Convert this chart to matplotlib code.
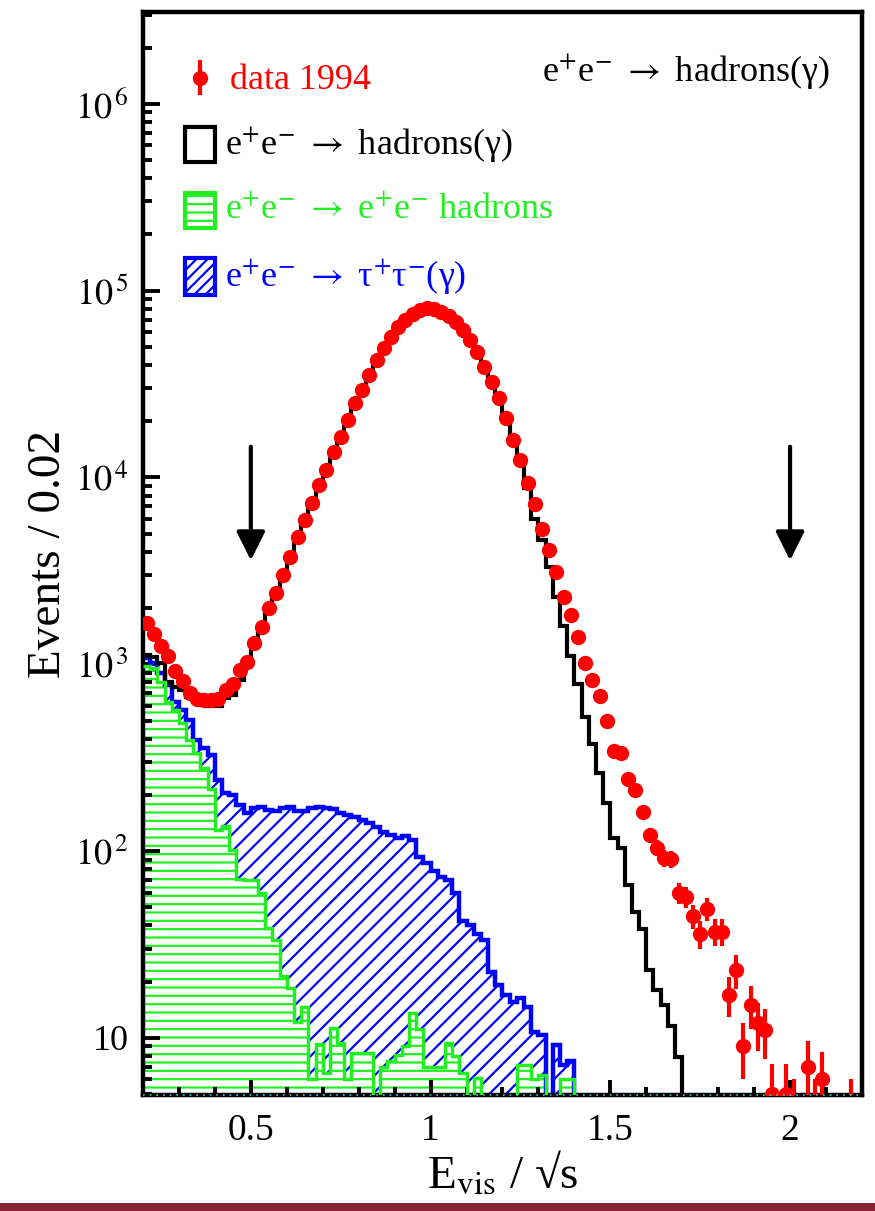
import numpy as np
import matplotlib
matplotlib.use("Agg")
import matplotlib.pyplot as plt
from matplotlib.patches import Rectangle
from matplotlib.ticker import FixedLocator, MultipleLocator, LogLocator, NullFormatter, FuncFormatter

plt.rcParams.update({
    "font.family": ["Liberation Serif", "DejaVu Serif"],
    "mathtext.fontset": "stix",
    "hatch.linewidth": 1.6,
})

# ---- data (E_vis / sqrt(s), bins of 0.02 from 0.2 to 2.2) ----
x_lo, x_hi, n_bins = 0.2, 2.2, 100
edges = np.linspace(x_lo, x_hi, n_bins + 1)
centres = 0.5 * (edges[:-1] + edges[1:])

data_1994 = np.array([
    1670, 1450, 1250, 1110, 920, 810, 705, 650, 645, 640,
    655, 730, 785, 933, 1030, 1300, 1585, 2000, 2410, 3010,
    3760, 4810, 5930, 7310, 9130, 10990, 13710, 16490, 20330, 25100,
    29440, 35400, 42600, 49400, 56600, 64000, 69800, 75000, 78900, 80900,
    80000, 77000, 73300, 68000, 61300, 54600, 47100, 39200, 32600, 26700,
    20900, 15900, 12400, 9350, 7250, 5270, 4100, 3120, 2280, 1825,
    1408, 1022, 819, 678, 499, 342, 337, 242, 213, 162,
    122, 104, 92, 91, 60, 57, 45, 36, 49, 37,
    37, 17, 23, 9, 15, 12, 11, 5, 0, 5,
    4, 0, 7, 4, 6, 0, 0, 0, 4, 0,
])

# total MC (hadrons + backgrounds)
mc_total = np.array([
    1125, 1100, 1014, 807, 760, 729, 671, 631, 606, 599,
    599, 658, 686, 825, 1000, 1270, 1560, 1960, 2380, 2980,
    3720, 4760, 5880, 7250, 9050, 10900, 13600, 16400, 20200, 25000,
    29300, 35200, 42400, 49200, 56400, 63800, 69600, 74800, 78700, 80700,
    79800, 76800, 73000, 67700, 61000, 54300, 46800, 38900, 32300, 26400,
    20600, 15600, 12000, 8800, 6000, 4600, 3300, 2300, 1600, 1110,
    780, 520, 375, 262, 180, 118, 104, 66, 47, 38.5,
    23, 18, 15, 11.6, 7.9, 0, 0, 0, 0, 0,
    0, 0, 0, 0, 0, 0, 0, 0, 0, 0,
    0, 0, 0, 0, 0, 0, 0, 0, 0, 0,
])

# two-photon + tau pairs (stacked)
mc_tautau_stack = np.array([
    1078, 1014, 900, 770, 631, 570, 504, 394, 355, 327,
    240, 204, 200, 177, 160, 170, 173, 166, 163, 170,
    173, 163, 163, 170, 172, 170, 168, 160, 157, 153,
    147, 141, 135, 127, 122, 118, 120, 115, 93, 86,
    78, 73, 70, 60, 42, 40, 36, 33.5, 22.6, 19.2,
    17, 15.5, 16.3, 14.7, 10.8, 10.4, 0, 9.2, 7.2, 7.5,
    0, 0, 0, 0, 0, 0, 0, 0, 0, 0,
    0, 0, 0, 0, 0, 0, 0, 0, 0, 0,
    0, 0, 0, 0, 0, 0, 0, 0, 0, 0,
    0, 0, 0, 0, 0, 0, 0, 0, 0, 0,
])

# two-photon hadrons
mc_twophoton = np.array([
    980, 950, 807, 631, 570, 484, 394, 334, 280, 215,
    130, 136, 101, 71, 70, 70, 60, 38.6, 33.5, 21.5,
    18.6, 12.2, 14.7, 6, 9.3, 6.5, 11.3, 9.4, 6, 8.3,
    8.3, 8.3, 0, 7, 7.5, 8.1, 9, 13.6, 11.1, 7,
    7, 7, 9.4, 8, 6.5, 0, 6.1, 0, 0, 0,
    0, 0, 7.2, 7.2, 6, 6.3, 0, 0, 6, 6,
    0, 0, 0, 0, 0, 0, 0, 0, 0, 0,
    0, 0, 0, 0, 0, 0, 0, 0, 0, 0,
    0, 0, 0, 0, 0, 0, 0, 0, 0, 0,
    0, 0, 0, 0, 0, 0, 0, 0, 0, 0,
])

cut_positions = [0.5, 2.0]
arrow_top, arrow_tip = 14600, 3600

x_ticks = [0.5, 1.0, 1.5, 2.0]
x_tick_labels = ["0.5", "1", "1.5", "2"]
y_ticks = [10, 1e2, 1e3, 1e4, 1e5, 1e6]

RED, GREEN, BLUE = "#ff0000", "#22ee22", "#0000ff"
LBL_HAD = r"e$^{+}$e$^{-}$ $\rightarrow$ hadrons(γ)"
LBL_GG = r"e$^{+}$e$^{-}$ $\rightarrow$ e$^{+}$e$^{-}$ hadrons"
LBL_TAU = r"e$^{+}$e$^{-}$ $\rightarrow$ τ$^{+}$τ$^{-}$(γ)"

fig = plt.figure(figsize=(8.75, 12.11), dpi=100)
ax = fig.add_axes([0.1634, 0.0958, 0.8217, 0.8943])
ax.set_yscale("log")
ax.set_xlim(x_lo, x_hi)
ax.set_ylim(4.95, 3.1e6)

# filled (hatched) backgrounds
ax.stairs(mc_twophoton, edges, baseline=1.0, fill=True, facecolor="none",
          edgecolor=GREEN, hatch="--", linewidth=0, zorder=1)
ax.stairs(mc_tautau_stack, edges, baseline=mc_twophoton, fill=True, facecolor="none",
          edgecolor=BLUE, hatch="//", linewidth=0, zorder=1)

# outlines
ax.stairs(mc_tautau_stack, edges, baseline=None, color=BLUE, linewidth=3.2, zorder=2)
ax.stairs(mc_twophoton, edges, baseline=None, color=GREEN, linewidth=2.5, zorder=3)
ax.stairs(mc_total, edges, baseline=None, color="black", linewidth=3, zorder=2)

# data points
m = data_1994 > 0
ax.errorbar(centres[m], data_1994[m], yerr=np.sqrt(data_1994[m]), fmt="o",
            color=RED, ms=10, elinewidth=3, capsize=0, zorder=5)

# cut arrows
for xc in cut_positions:
    ax.annotate("", xy=(xc, arrow_tip), xytext=(xc, arrow_top),
                arrowprops=dict(arrowstyle="-|>,head_length=0.7,head_width=0.35",
                                color="black", lw=3, shrinkA=0, shrinkB=0,
                                mutation_scale=25), zorder=6)

# axes cosmetics
for s in ax.spines.values():
    s.set_linewidth(3.2)
ax.xaxis.set_major_locator(FixedLocator(x_ticks))
ax.set_xticklabels(x_tick_labels)
ax.xaxis.set_minor_locator(MultipleLocator(0.1))
ax.yaxis.set_major_locator(FixedLocator(y_ticks))
ax.yaxis.set_minor_locator(LogLocator(base=10, subs=np.arange(2, 10)))
ax.yaxis.set_minor_formatter(NullFormatter())
ax.yaxis.set_major_formatter(FuncFormatter(
    lambda v, p: "10" if round(np.log10(v)) == 1 else r"$10^{\,%d}$" % round(np.log10(v))))
ax.tick_params(axis="both", which="both", direction="in", width=2.8)
ax.tick_params(axis="y", which="major", length=12, labelsize=26, pad=10)
ax.tick_params(axis="y", which="minor", length=6.5)
ax.tick_params(axis="x", which="major", length=11, labelsize=27, pad=13)
ax.tick_params(axis="x", which="minor", length=6)

ax.axhline(4.95, color="#33cccc", linestyle=(0, (1, 3)), linewidth=1.2, zorder=7, clip_on=False)

ax.set_xlabel(r"E$_{\mathrm{vis}}$ / √s", fontsize=34, labelpad=2)
ax.set_ylabel("Events / 0.02", fontsize=34, labelpad=4)

# legend drawn by hand
T = ax.transAxes
ax.plot([0.0793, 0.0793], [0.925, 0.954], color=RED, lw=3, transform=T)
ax.plot([0.0793], [0.939], "o", color=RED, ms=10, transform=T)
ax.text(0.121, 0.937, "data 1994", color=RED, fontsize=26, va="center", transform=T)

ax.add_patch(Rectangle((0.0584, 0.8615), 0.0417, 0.0323, transform=T, fill=False,
                       edgecolor="black", lw=3))
ax.text(0.114, 0.877, LBL_HAD, color="black", fontsize=26, va="center", transform=T)

ax.add_patch(Rectangle((0.0584, 0.8005), 0.0417, 0.0323, transform=T, facecolor="none",
                       edgecolor=GREEN, hatch="--", lw=3))
ax.text(0.114, 0.817, LBL_GG, color=GREEN, fontsize=26, va="center", transform=T)

ax.add_patch(Rectangle((0.0584, 0.7387), 0.0417, 0.0342, transform=T, facecolor="none",
                       edgecolor=BLUE, hatch="///", lw=3))
ax.text(0.114, 0.755, LBL_TAU, color=BLUE, fontsize=26, va="center", transform=T)

ax.text(0.555, 0.9446, LBL_HAD, color="black", fontsize=26, va="center", transform=T)

# maroon strip at the very bottom
fig.add_artist(Rectangle((0, 0), 1, 8 / 1211, transform=fig.transFigure,
                         color="#862434", lw=0))

fig.savefig("out.png", dpi=100)
